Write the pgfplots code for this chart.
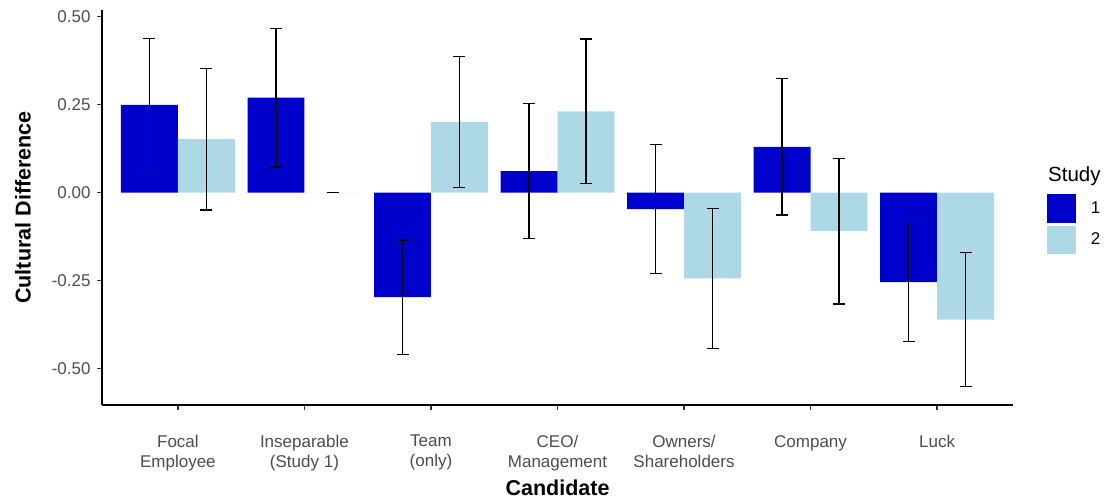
\documentclass[border=0pt]{standalone}
\usepackage{fontspec}
\setmainfont{Liberation Sans}
\usepackage{pgfplots}
\pgfplotsset{compat=1.18}
\usepackage{pgfplotstable}
\definecolor{s1}{HTML}{0000CD}
\definecolor{s2}{HTML}{ADD8E6}
\definecolor{txt}{HTML}{4D4D4D}
\definecolor{tk}{HTML}{333333}

\pgfplotstableread{
x  y       e
0  0.249   0.189
1  0.270   0.197
2  -0.297  0.1625
3  0.061   0.1925
4  -0.047  0.1835
5  0.130   0.194
6  -0.255  0.1675
}\studyone

\pgfplotstableread{
x  y       e
0  0.152   0.2015
1  0.000   0.000
2  0.200   0.186
3  0.231   0.2055
4  -0.244  0.1995
5  -0.110  0.207
6  -0.361  0.191
}\studytwo

\begin{document}
\begin{tikzpicture}
\useasboundingbox (0,0) rectangle (1106pt,498pt);
\begin{axis}[
  at={(102pt,93pt)}, anchor=south west,
  scale only axis, width=911pt, height=395pt,
  xmin=-0.6, xmax=6.6, ymin=-0.604, ymax=0.519,
  axis x line*=bottom, axis y line*=left,
  axis line style={line width=1.2pt, black},
  tick align=outside,
  major tick length=4.5pt,
  tick style={line width=1.2pt, color=tk},
  xtick={0,1,2,3,4,5,6},
  xticklabels={Focal\\Employee, Inseparable\\(Study 1), Team\\(only), CEO/\\Management, Owners/\\Shareholders, Company, Luck},
  ytick={-0.5,-0.25,0,0.25,0.5},
  yticklabels={-0.50,-0.25,0.00,0.25,0.50},
  xticklabel style={font=\fontsize{17}{20}\selectfont, text=txt, align=center, anchor=north, inner sep=0pt, yshift=-25.5pt},
  yticklabel style={font=\fontsize{17}{20}\selectfont, text=txt, anchor=east, inner sep=0pt, xshift=-6.8pt},
  xlabel={Candidate},
  ylabel={Cultural Difference},
  xlabel style={font=\fontsize{21.5}{24}\selectfont\bfseries, at={(axis description cs:0.5,-0.228)}, anchor=base, inner sep=0pt},
  ylabel style={font=\fontsize{21.5}{24}\selectfont\bfseries, at={(axis description cs:-0.0867,0.5)}, anchor=center, inner sep=0pt},
  legend style={at={(axis description cs:1.0373,0.5334)}, anchor=north west, draw=none, fill=none,
     inner sep=0pt, outer sep=0pt, row sep=2.8pt, column sep=15pt,
     font=\fontsize{17}{20}\selectfont, nodes={inner sep=0pt}},
  legend cell align=left,
  clip=false,
]
\addplot[ybar, bar width=0.45, bar shift=-0.225, fill=s1, draw=none,
  legend image code/.code={\fill[s1] (0pt,-14.2pt) rectangle (29pt,14.2pt);}]
  table[x=x, y=y] {\studyone};
\addlegendentry{1}
\addplot[ybar, bar width=0.45, bar shift=0.225, fill=s2, draw=none,
  legend image code/.code={\fill[s2] (0pt,-14.2pt) rectangle (29pt,14.2pt);}]
  table[x=x, y=y] {\studytwo};
\addlegendentry{2}
\addplot[draw=none, mark=none, forget plot,
  error bars/.cd, y dir=both, y explicit,
  error bar style={line width=1.3pt, black},
  error mark options={rotate=90, mark size=6pt, line width=1.3pt, black}]
  table[x expr=\thisrow{x}-0.225, y=y, y error=e] {\studyone};
\addplot[draw=none, mark=none, forget plot,
  error bars/.cd, y dir=both, y explicit,
  error bar style={line width=1.3pt, black},
  error mark options={rotate=90, mark size=6pt, line width=1.3pt, black}]
  table[x expr=\thisrow{x}+0.225, y=y, y error=e] {\studytwo};
\node[anchor=base west, inner sep=0pt, font=\fontsize{20.5}{24}\selectfont] at (axis description cs:1.0384,0.5653) {Study};
\end{axis}
\end{tikzpicture}
\end{document}
